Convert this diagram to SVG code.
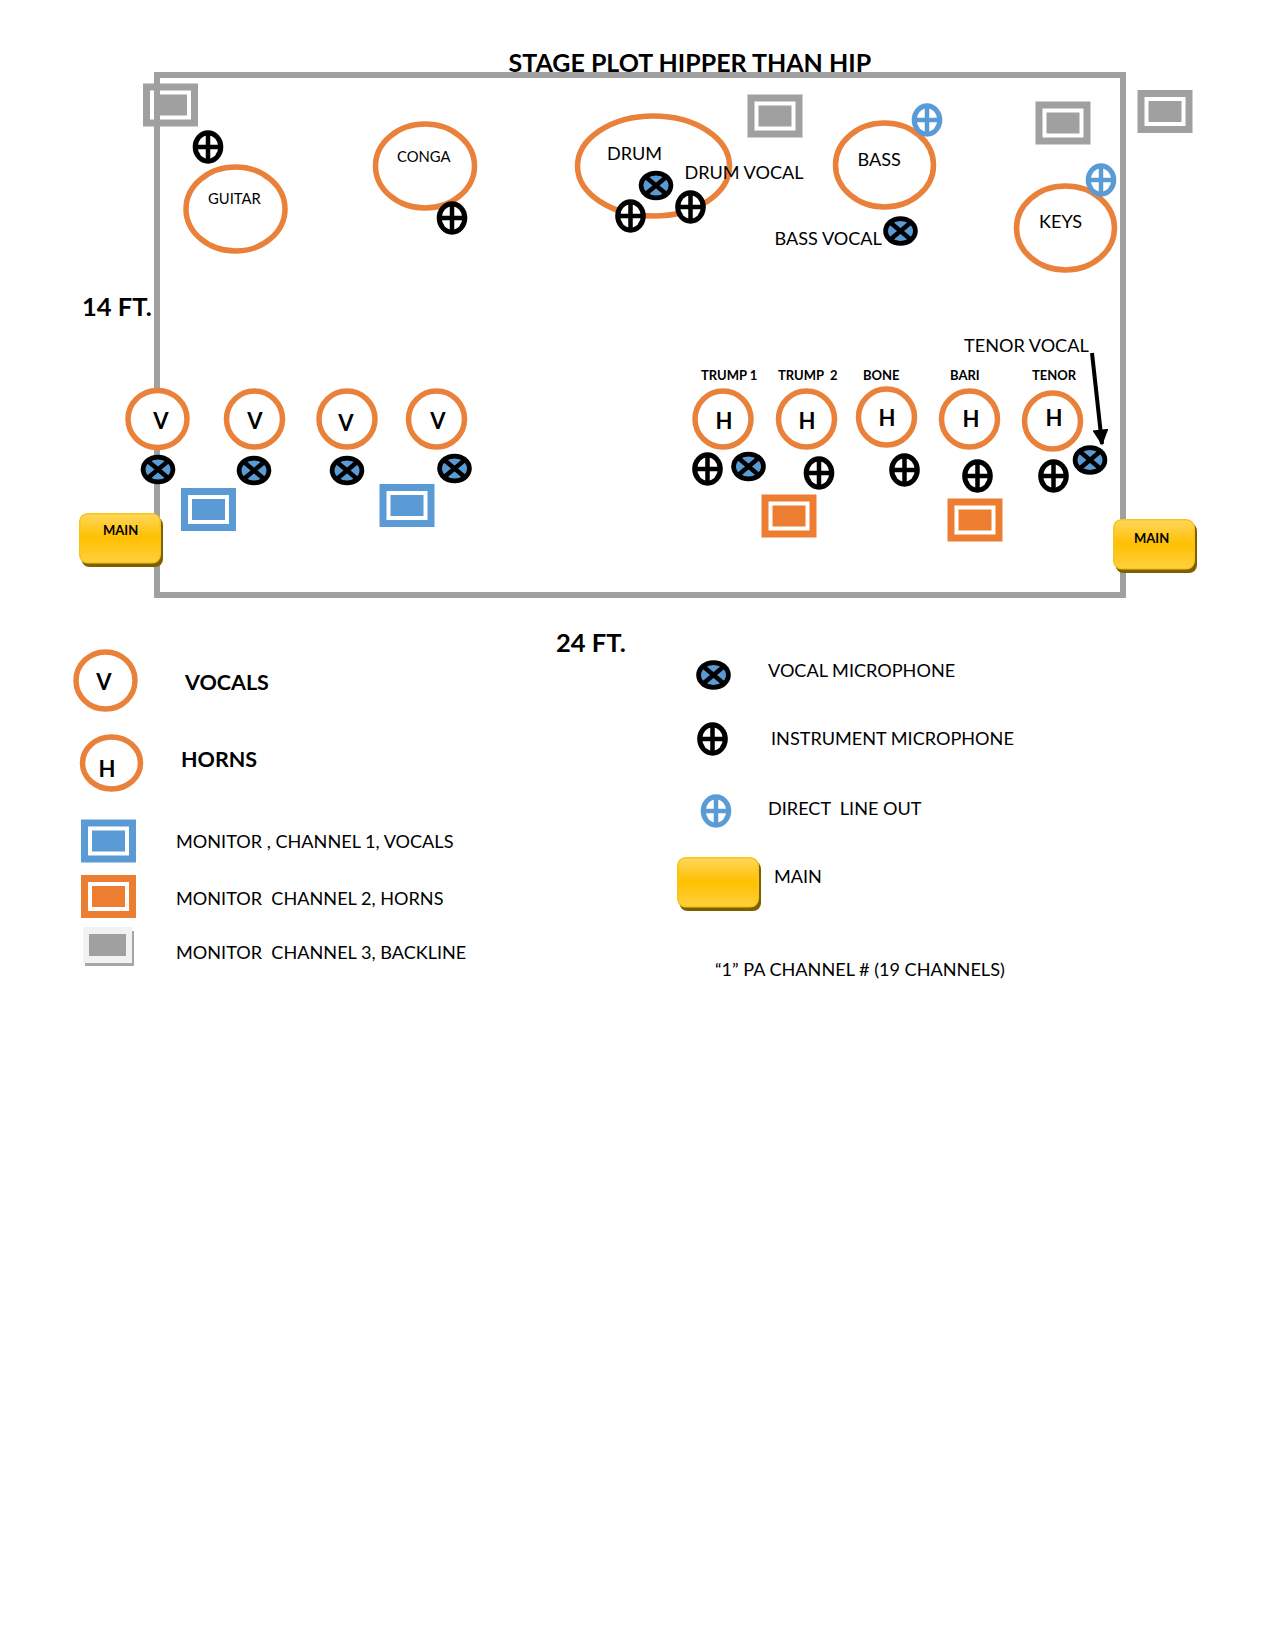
<svg xmlns="http://www.w3.org/2000/svg" width="1275" height="1650" viewBox="0 0 1275 1650">
<style>
text{font-family:Lato,"Liberation Sans",sans-serif;fill:#000;white-space:pre}
.t{font-size:18.1px}
.b{font-weight:700}
.l{font-size:21.5px;font-weight:700}
.d{font-size:25.500px;font-weight:700}
.s{font-size:13px;font-weight:700}
.m{font-size:14.800px}
.g{font-size:22px;font-weight:700;text-anchor:middle}
.ring{fill:#fff;stroke:#e9813a;stroke-width:5.500}
</style>
<defs>
<linearGradient id="gold" x1="0" y1="0" x2="0" y2="1"><stop offset="0" stop-color="#ffd65c"/><stop offset=".5" stop-color="#ffc000"/><stop offset="1" stop-color="#ffd040"/></linearGradient>
<marker id="ah" markerWidth="5" markerHeight="5" refX="3.6" refY="2" orient="auto"><path d="M0 0L4 2L0 4Z" fill="#000"/></marker>
<g id="imic"><ellipse rx="15.3" ry="16.7" fill="#000"/><ellipse rx="10.3" ry="11.5" fill="#fff"/><path d="M-13 0H13M0-14V14" stroke="#000" stroke-width="4.5"/></g>
<g id="dmic"><ellipse rx="15.3" ry="16.7" fill="#5b9bd5"/><ellipse rx="10.3" ry="11.5" fill="#fff"/><path d="M-13 0H13M0-14V14" stroke="#5b9bd5" stroke-width="4.5"/></g>
<g id="vmic"><ellipse rx="17.3" ry="14.7" fill="#000"/><ellipse rx="12.5" ry="10" fill="#5b9bd5"/><path d="M-12-10L12 10M-12 10L12-10" stroke="#000" stroke-width="4.5"/></g>
<g id="mon"><rect x="-27.5" y="-21.5" width="55" height="43"/><rect x="-20.5" y="-14.5" width="41" height="29" fill="#fff"/><rect x="-16.5" y="-10.5" width="33" height="21"/></g>
<g id="main"><rect x="2.500" y="4" width="81.500" height="50" rx="8" fill="#7f6000"/><rect x=".75" y=".75" width="80.500" height="49" rx="8" fill="url(#gold)" stroke="#f5c518" stroke-width="1.5"/></g>
</defs>

<g id="monitor-backline-1"><use href="#mon" x="170.5" y="105" fill="#a0a0a0"/></g>
<g id="stage"><rect x="157" y="75" width="966" height="520" fill="none" stroke="#a0a0a0" stroke-width="6"/></g>
<text id="title" x="508.500" y="72" class="b" font-size="25">STAGE PLOT HIPPER THAN HIP</text>
<g id="dim-14"><text x="82" y="316" class="d">14 FT.</text></g>
<g id="dim-24"><text x="556" y="652" class="d">24 FT.</text></g>

<g id="monitor-backline-2"><use href="#mon" x="775" y="116" fill="#a0a0a0"/></g>
<g id="monitor-backline-3"><use href="#mon" x="1063" y="123" fill="#a0a0a0"/></g>
<g id="monitor-backline-4"><use href="#mon" x="1165" y="111.5" fill="#a0a0a0"/></g>
<g id="monitor-vocal-1"><use href="#mon" x="208.5" y="509.5" fill="#5b9bd5"/></g>
<g id="monitor-vocal-2"><use href="#mon" x="407" y="505.5" fill="#5b9bd5"/></g>
<g id="monitor-horn-1"><use href="#mon" x="789" y="516" fill="#ed7d31"/></g>
<g id="monitor-horn-2"><use href="#mon" x="975" y="520" fill="#ed7d31"/></g>

<g id="guitar"><ellipse class="ring" cx="235.500" cy="209" rx="49.5" ry="42"/><text x="208" y="204" class="m">GUITAR</text></g>
<g id="conga"><ellipse class="ring" cx="425" cy="166" rx="49.5" ry="42"/><text x="397" y="162" class="m">CONGA</text></g>
<g id="drum"><ellipse class="ring" cx="653.500" cy="166" rx="76" ry="50"/><text x="607" y="160" class="t">DRUM</text></g>
<g id="bass"><ellipse class="ring" cx="884.500" cy="165" rx="49" ry="42"/><text x="857.500" y="166" class="t">BASS</text></g>
<g id="keys"><ellipse class="ring" cx="1065.500" cy="228" rx="49" ry="42"/><text x="1039" y="228" class="t">KEYS</text></g>

<g id="vocal-1"><ellipse class="ring" cx="157.5" cy="419" rx="29.5" ry="28.5"/><text x="161" y="429" class="g">V</text></g>
<g id="vocal-2"><ellipse class="ring" cx="254.500" cy="419" rx="28" ry="28"/><text x="255" y="429" class="g">V</text></g>
<g id="vocal-3"><ellipse class="ring" cx="347" cy="419" rx="28" ry="28"/><text x="346" y="431" class="g">V</text></g>
<g id="vocal-4"><ellipse class="ring" cx="436.500" cy="419" rx="28" ry="28"/><text x="438" y="429" class="g">V</text></g>

<g id="horn-trump1"><ellipse class="ring" cx="723" cy="419" rx="28" ry="28"/><text x="724" y="429" class="g">H</text><text x="701" y="380" class="s">TRUMP 1</text></g>
<g id="horn-trump2"><ellipse class="ring" cx="806.500" cy="419" rx="28" ry="28"/><text x="807" y="429" class="g">H</text><text x="778" y="380" class="s">TRUMP  2</text></g>
<g id="horn-bone"><ellipse class="ring" cx="886.500" cy="417" rx="28" ry="28"/><text x="887" y="426" class="g">H</text><text x="863" y="380" class="s">BONE</text></g>
<g id="horn-bari"><ellipse class="ring" cx="969.500" cy="419" rx="28" ry="28"/><text x="971" y="427" class="g">H</text><text x="950" y="380" class="s">BARI</text></g>
<g id="horn-tenor"><ellipse class="ring" cx="1052.500" cy="421" rx="28" ry="28"/><text x="1054" y="426" class="g">H</text><text x="1032" y="380" class="s">TENOR</text></g>

<g id="mics-instrument">
<use href="#imic" x="208" y="147"/><use href="#imic" x="452" y="218"/><use href="#imic" x="630.500" y="216"/><use href="#imic" x="690.500" y="207"/>
<use href="#imic" x="707.500" y="469"/><use href="#imic" x="819" y="473"/><use href="#imic" x="904.500" y="470"/><use href="#imic" x="977.500" y="476"/><use href="#imic" x="1053.500" y="476"/>
</g>
<g id="mics-direct"><use href="#dmic" x="927" y="120"/><use href="#dmic" x="1101" y="180"/></g>
<g id="mics-vocal">
<use href="#vmic" x="158" y="469.500"/><use href="#vmic" x="254" y="470.500"/><use href="#vmic" x="347" y="470.500"/><use href="#vmic" x="454.500" y="468.500"/>
<use href="#vmic" x="656" y="185.500"/><use href="#vmic" x="900.500" y="231"/><use href="#vmic" x="748.500" y="466.500"/><use href="#vmic" x="1090" y="460"/>
</g>

<g id="main-left"><use href="#main" x="79" y="513"/><text x="103" y="535" class="s">MAIN</text></g>
<g id="main-right"><use href="#main" x="1113" y="519"/><text x="1134" y="543" class="s">MAIN</text></g>

<text x="684.500" y="179" class="t">DRUM VOCAL</text>
<text x="774.500" y="245" class="t">BASS VOCAL</text>
<text x="964" y="352" class="t">TENOR VOCAL</text>
<g id="connectors"><path d="M1092 353L1102 444" fill="none" stroke="#000" stroke-width="4" marker-end="url(#ah)"/></g>

<g id="legend-vocals"><ellipse class="ring" cx="105.500" cy="680.500" rx="29.500" ry="28.500"/><text x="104" y="690" class="g">V</text><text x="185" y="690" class="l">VOCALS</text></g>
<g id="legend-horns"><ellipse class="ring" cx="111.500" cy="763" rx="29" ry="26"/><text x="107" y="777" class="g">H</text><text x="181" y="767" class="l">HORNS</text></g>
<g id="legend-mon-1"><use href="#mon" x="108.500" y="841" fill="#5b9bd5"/><text x="176" y="848" class="t">MONITOR , CHANNEL 1, VOCALS</text></g>
<g id="legend-mon-2"><use href="#mon" x="108.500" y="896.500" fill="#ed7d31"/><text x="176" y="905" class="t">MONITOR  CHANNEL 2, HORNS</text></g>
<g id="legend-mon-3"><rect x="85" y="931" width="49" height="35" fill="#a6a6a6"/><rect x="83" y="927" width="49" height="36" fill="#f2f2f2"/><rect x="89" y="934" width="37" height="22" fill="#a0a0a0"/><text x="176" y="959" class="t">MONITOR  CHANNEL 3, BACKLINE</text></g>
<g id="legend-vmic"><use href="#vmic" x="713.500" y="675"/><text x="768" y="677" class="t">VOCAL MICROPHONE</text></g>
<g id="legend-imic"><use href="#imic" x="712.500" y="739"/><text x="771" y="745" class="t">INSTRUMENT MICROPHONE</text></g>
<g id="legend-dmic"><use href="#dmic" x="716" y="811"/><text x="768" y="815" class="t">DIRECT  LINE OUT</text></g>
<g id="legend-main"><use href="#main" x="677" y="857"/><text x="774" y="883" class="t">MAIN</text></g>
<text id="legend-note" x="715" y="976" class="t">“1” PA CHANNEL # (19 CHANNELS)</text>
</svg>
